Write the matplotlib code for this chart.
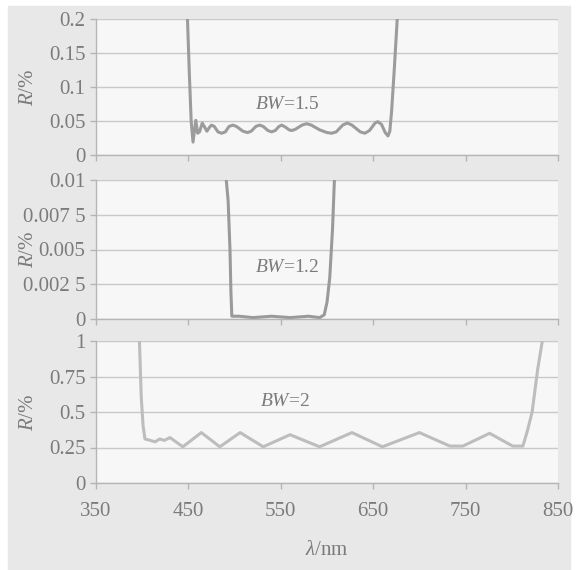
import numpy as np
import matplotlib.pyplot as plt
from matplotlib.patches import Rectangle

# BW=1.5 curve (top)
wl_a = [449, 451, 453, 455, 458, 460, 462, 465, 468, 470, 473, 475, 478, 482, 486,
        490, 494, 498, 502, 509, 514, 518, 523, 527, 531, 536, 540, 544, 548, 551,
        555, 559, 562, 566, 573, 578, 583, 592, 600, 605, 610, 617, 622, 627, 636,
        641, 646, 652, 655, 659, 663, 666, 668, 670, 673, 676]
r_a = [0.20, 0.12, 0.05, 0.019, 0.051, 0.032, 0.034, 0.047, 0.040, 0.035, 0.041, 0.044,
       0.042, 0.034, 0.032, 0.034, 0.042, 0.044, 0.042, 0.035, 0.033, 0.035, 0.042,
       0.044, 0.042, 0.036, 0.034, 0.036, 0.042, 0.044, 0.041, 0.037, 0.036, 0.038,
       0.044, 0.046, 0.044, 0.037, 0.033, 0.032, 0.034, 0.044, 0.047, 0.044, 0.034,
       0.032, 0.036, 0.047, 0.049, 0.045, 0.033, 0.028, 0.035, 0.066, 0.13, 0.20]

# BW=1.2 curve (middle)
wl_b = [491, 493, 495, 496, 497, 505, 520, 540, 560, 580, 592, 597, 600, 603, 606, 608]
r_b = [0.0100, 0.0085, 0.0050, 0.0020, 0.0002, 0.0002, 0.0001, 0.0002, 0.0001,
       0.0002, 0.0001, 0.0003, 0.0012, 0.0030, 0.0065, 0.0100]

# BW=2 curve (bottom)
wl_c = [397, 399, 401, 403, 406, 414, 419, 424, 430, 444, 464, 484, 506, 531, 560,
        592, 627, 660, 700, 733, 747, 776, 801, 812, 817, 822, 828, 833]
r_c = [1.0, 0.60, 0.40, 0.31, 0.305, 0.29, 0.31, 0.30, 0.32, 0.255, 0.355, 0.255,
       0.355, 0.255, 0.34, 0.255, 0.355, 0.255, 0.355, 0.26, 0.26, 0.35, 0.26, 0.26,
       0.37, 0.50, 0.80, 1.0]

labels = ['$BW$=1.5', '$BW$=1.2', '$BW$=2']
yticks = [[0, 0.05, 0.1, 0.15, 0.2],
          [0, 0.0025, 0.005, 0.0075, 0.01],
          [0, 0.25, 0.5, 0.75, 1]]
yticklabels = [['0', '0.05', '0.1', '0.15', '0.2'],
               ['0', '0.002 5', '0.005', '0.007 5', '0.01'],
               ['0', '0.25', '0.5', '0.75', '1']]
xticks = [350, 450, 550, 650, 750, 850]

plt.rcParams['font.family'] = ['Liberation Serif', 'DejaVu Serif']
plt.rcParams['mathtext.fontset'] = 'custom'
plt.rcParams['mathtext.it'] = 'Liberation Serif:italic'
plt.rcParams['mathtext.rm'] = 'Liberation Serif'

txt = '#7b7b7b'
fig = plt.figure(figsize=(5.81, 5.70), dpi=100)
fig.patch.set_facecolor('white')
fig.patches.append(Rectangle((8 / 581, 0), 562 / 581, 1 - 6 / 570,
                             transform=fig.transFigure, color='#e8e8e8', zorder=-10))

left, width = 96 / 581, 462 / 581
boxes = [(19, 155), (180, 319), (341, 483)]
curves = [(wl_a, r_a, '#9c9c9c'), (wl_b, r_b, '#9a9a9a'), (wl_c, r_c, '#bdbdbd')]
label_pos = [(557, 0.074), (557, 0.0037), (555, 0.575)]

for i, (top, bot) in enumerate(boxes):
    ax = fig.add_axes([left, 1 - bot / 570, width, (bot - top) / 570])
    ax.set_facecolor('#f7f7f7')
    x, y, c = curves[i]
    ax.plot(x, y, color=c, lw=2.2, solid_joinstyle='round', solid_capstyle='round')
    ax.set_xlim(350, 850)
    ax.set_ylim(yticks[i][0], yticks[i][-1])
    ax.set_yticks(yticks[i])
    ax.set_yticklabels(yticklabels[i])
    ax.set_xticks(xticks)
    if i < 2:
        ax.set_xticklabels([])
    ax.grid(axis='y', color='#c9c9c9', lw=1)
    ax.set_axisbelow(True)
    for s in ['top', 'right']:
        ax.spines[s].set_visible(False)
    for s in ['left', 'bottom']:
        ax.spines[s].set_color('#b5b5b5')
        ax.spines[s].set_linewidth(1)
    ax.tick_params(colors='#b5b5b5', labelcolor=txt, labelsize=15, length=4, width=1)
    ax.tick_params(axis='x', pad=10)
    ax.set_ylabel('$R$/%', color=txt, fontsize=15)
    ax.yaxis.set_label_coords(-0.126, 0.5)
    ax.text(label_pos[i][0], label_pos[i][1], labels[i], color=txt, fontsize=14,
            ha='center', va='center')
    if i == 2:
        ax.set_xlabel('$\\lambda$/nm', color=txt, fontsize=15, labelpad=14)

fig.savefig('out.png', dpi=100, facecolor=fig.get_facecolor())
